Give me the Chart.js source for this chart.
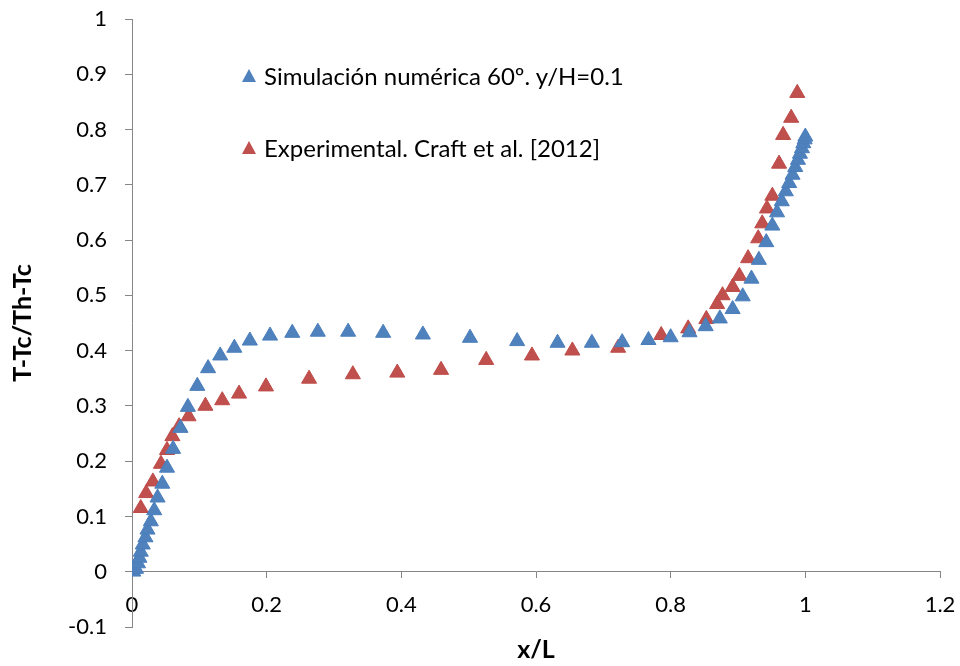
<!DOCTYPE html>
<html>
<head>
<meta charset="utf-8">
<script src="https://cdn.jsdelivr.net/npm/chart.js@4.4.0/dist/chart.umd.min.js"></script>
<style>
  body { margin: 0; background: #fff; }
  #wrap { position: relative; width: 960px; height: 666px; font-family: Lato, sans-serif; }
  .legend-item { position: absolute; left: 242px; height: 26px; display: flex; align-items: center; font-size: 24px; color: #000; white-space: nowrap; }
  .tri { width: 0; height: 0; border-left: 7px solid transparent; border-right: 7px solid transparent; border-bottom: 13px solid; margin-right: 8px; }
  #xTitle { position: absolute; left: 132px; width: 808px; top: 634px; text-align: center; font-weight: bold; font-size: 25px; line-height: 28px; }
</style>
</head>
<body>
<div id="wrap">
  <canvas id="chart" width="960" height="666"></canvas>
  <div id="legend"></div>
  <div id="xTitle">x/L</div>
</div>
<script>
// Simulación numérica 60º, y/H=0.1
const simX = [0.002, 0.006, 0.009, 0.011, 0.013, 0.016, 0.020, 0.023, 0.028, 0.033, 0.038, 0.045, 0.052, 0.061,
  0.072, 0.083, 0.097, 0.113, 0.131, 0.152, 0.175, 0.205, 0.238, 0.276, 0.321, 0.373, 0.432, 0.502, 0.572,
  0.632, 0.683, 0.728, 0.767, 0.800, 0.828, 0.852, 0.873, 0.892, 0.907, 0.920, 0.931, 0.942, 0.951, 0.958,
  0.965, 0.971, 0.976, 0.981, 0.985, 0.989, 0.992, 0.995, 0.997, 0.999, 1.0];
const simY = [0.0, 0.005, 0.015, 0.025, 0.036, 0.049, 0.062, 0.076, 0.091, 0.111, 0.134, 0.159, 0.188, 0.222,
  0.260, 0.298, 0.336, 0.368, 0.391, 0.405, 0.418, 0.427, 0.432, 0.434, 0.434, 0.432, 0.429, 0.423, 0.417,
  0.414, 0.414, 0.415, 0.419, 0.424, 0.433, 0.444, 0.458, 0.475, 0.498, 0.530, 0.564, 0.596, 0.626, 0.650,
  0.670, 0.688, 0.703, 0.718, 0.732, 0.745, 0.756, 0.766, 0.775, 0.782, 0.787];

// Experimental, Craft et al. [2012]
const expX = [0.013, 0.021, 0.031, 0.043, 0.052, 0.060, 0.070, 0.084, 0.109, 0.134, 0.159, 0.199, 0.263, 0.328,
  0.394, 0.459, 0.526, 0.594, 0.654, 0.722, 0.786, 0.826, 0.853, 0.869, 0.877, 0.892, 0.902, 0.915, 0.930,
  0.936, 0.943, 0.951, 0.961, 0.967, 0.979, 0.988];
const expY = [0.115, 0.142, 0.163, 0.195, 0.220, 0.245, 0.263, 0.281, 0.300, 0.310, 0.322, 0.335, 0.349, 0.357,
  0.360, 0.365, 0.383, 0.391, 0.400, 0.405, 0.428, 0.440, 0.457, 0.484, 0.500, 0.515, 0.535, 0.567, 0.603,
  0.630, 0.657, 0.680, 0.738, 0.790, 0.821, 0.866];

const seriesLabels = ['Simulación numérica 60º. y/H=0.1', 'Experimental. Craft et al. [2012]'];
const xTickValues = [0, 0.2, 0.4, 0.6, 0.8, 1, 1.2];
const yTickValues = [-0.1, 0, 0.1, 0.2, 0.3, 0.4, 0.5, 0.6, 0.7, 0.8, 0.9, 1];

const blue = '#4f81bd';
const red = '#c0504d';
const axisGray = '#868686';
const font = 'Lato, sans-serif';

function toPoints(xs, ys) {
  return xs.map((x, i) => ({ x: x, y: ys[i] }));
}

const ctx = document.getElementById('chart').getContext('2d');
const chart = new Chart(ctx, {
  type: 'scatter',
  data: {
    datasets: [
      {
        label: seriesLabels[0],
        data: toPoints(simX, simY),
        pointStyle: 'triangle',
        pointRadius: 8.7,
        backgroundColor: blue,
        borderColor: '#4a7ebb',
        borderWidth: 1,
      },
      {
        label: seriesLabels[1],
        data: toPoints(expX, expY),
        pointStyle: 'triangle',
        pointRadius: 8.7,
        backgroundColor: red,
        borderColor: '#be4b48',
        borderWidth: 1,
      },
    ],
  },
  options: {
    responsive: false,
    animation: false,
    layout: { padding: { top: 19, right: 20, bottom: 39, left: 0 } },
    plugins: { legend: { display: false }, tooltip: { enabled: false } },
    scales: {
      x: {
        type: 'linear',
        position: { y: 0 },
        min: 0,
        max: 1.2,
        afterBuildTicks: (scale) => { scale.ticks = xTickValues.map(v => ({ value: v })); },
        afterFit: (scale) => {
          // axis sits at y = 0 inside the plot, so it takes no room of its own
          scale.height = 0;
          scale.paddingLeft = 0;
          scale.paddingRight = 0;
        },
        grid: { drawOnChartArea: false, drawTicks: true, tickLength: 6, color: axisGray },
        border: { color: axisGray, width: 1 },
        ticks: { color: '#000', font: { family: font, size: 22 }, padding: 14, maxRotation: 0,
          callback: (v) => String(v) },
      },
      y: {
        type: 'linear',
        position: 'left',
        min: -0.1,
        max: 1,
        afterBuildTicks: (scale) => { scale.ticks = yTickValues.map(v => ({ value: v })); },
        afterFit: (scale) => {
          scale.width = 132;
          scale.paddingTop = 0;
          scale.paddingBottom = 0;
        },
        grid: { drawOnChartArea: false, drawTicks: true, tickLength: 7, color: axisGray },
        border: { color: axisGray, width: 1 },
        ticks: { color: '#000', font: { family: font, size: 22 }, padding: 18,
          callback: (v) => String(v) },
        title: {
          display: true,
          text: 'T-Tc/Th-Tc',
          color: '#000',
          font: { family: font, size: 25, weight: 'bold' },
          padding: { top: 8, bottom: 0 },
        },
      },
    },
  },
});

// legend placed inside the plot like the original
const legend = document.getElementById('legend');
const legendTops = [62, 134];
chart.data.datasets.forEach((ds, i) => {
  const item = document.createElement('div');
  item.className = 'legend-item';
  item.style.top = legendTops[i] + 'px';
  item.innerHTML = '<span class="tri" style="border-bottom-color:' + ds.backgroundColor + '"></span>' + ds.label;
  legend.appendChild(item);
});
</script>
</body>
</html>
